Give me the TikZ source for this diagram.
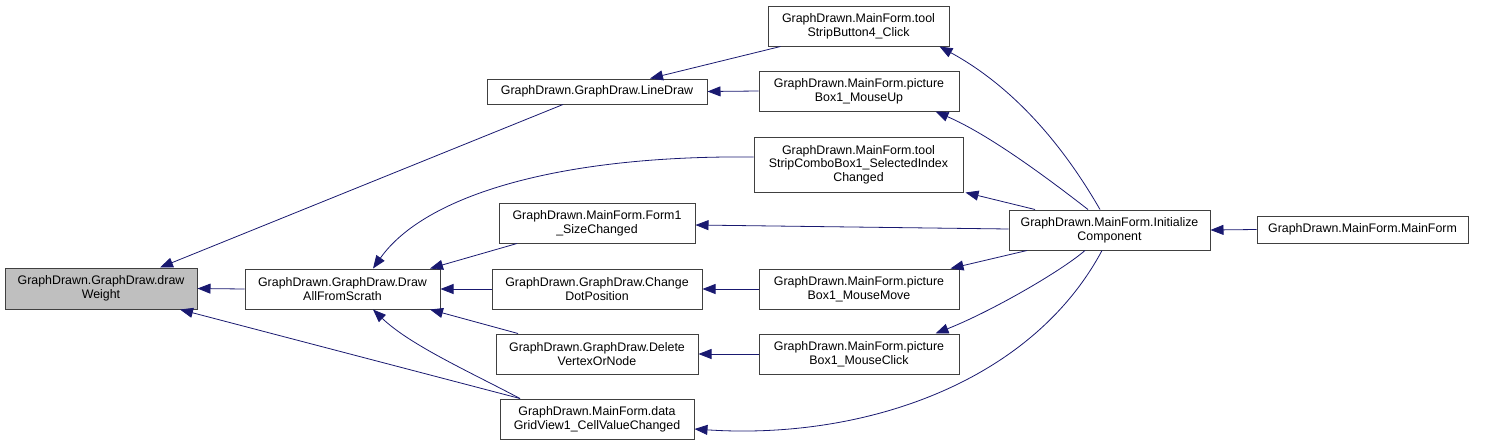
\documentclass[tikz,border=0pt]{standalone}
\usepackage{fontspec}
\setmainfont{Liberation Sans}
\usetikzlibrary{arrows.meta,calc}
\definecolor{edgecol}{HTML}{191970}
\definecolor{boxline}{HTML}{404040}
\definecolor{curfill}{HTML}{BFBFBF}
\tikzset{
  fbox/.style={draw=boxline, line width=1pt, fill=white, inner sep=0pt, align=center,
    font=\fontsize{12.4}{13.6}\selectfont},
  cur/.style={fbox, fill=curfill},
  edge/.style={draw=edgecol, line width=0.8pt, -{Triangle[length=13pt,width=10pt]}},
}
\begin{document}
\begin{tikzpicture}[x=1pt,y=-1pt]
\useasboundingbox (0,0) rectangle (1489,445);
% nodes
\node[cur,  minimum width=192pt, minimum height=41pt] (dw) at (101,288.5) {GraphDrawn.GraphDraw.draw\\Weight};
\node[fbox, minimum width=195pt, minimum height=40pt] (da) at (342.5,289) {GraphDrawn.GraphDraw.Draw\\AllFromScrath};
\node[fbox, minimum width=220pt, minimum height=25pt] (ld) at (597,91.5) {GraphDrawn.GraphDraw.LineDraw};
\node[fbox, minimum width=181pt, minimum height=40pt] (tb) at (858.5,26) {GraphDrawn.MainForm.tool\\StripButton4\_Click};
\node[fbox, minimum width=200pt, minimum height=40pt] (mu) at (859,91) {GraphDrawn.MainForm.picture\\Box1\_MouseUp};
\node[fbox, minimum width=209pt, minimum height=55pt] (tc) at (858.5,164.5) {GraphDrawn.MainForm.tool\\StripComboBox1\_SelectedIndex\\Changed};
\node[fbox, minimum width=196pt, minimum height=40pt] (fs) at (597,223) {GraphDrawn.MainForm.Form1\\\_SizeChanged};
\node[fbox, minimum width=210pt, minimum height=40pt] (cd) at (597,289) {GraphDrawn.GraphDraw.Change\\DotPosition};
\node[fbox, minimum width=202pt, minimum height=40pt] (dv) at (597,354) {GraphDrawn.GraphDraw.Delete\\VertexOrNode};
\node[fbox, minimum width=194pt, minimum height=40pt] (dg) at (597,419) {GraphDrawn.MainForm.data\\GridView1\_CellValueChanged};
\node[fbox, minimum width=200pt, minimum height=40pt] (mm) at (859,289) {GraphDrawn.MainForm.picture\\Box1\_MouseMove};
\node[fbox, minimum width=200pt, minimum height=40pt] (mc) at (859,354) {GraphDrawn.MainForm.picture\\Box1\_MouseClick};
\node[fbox, minimum width=201pt, minimum height=40pt] (ic) at (1109.5,230) {GraphDrawn.MainForm.Initialize\\Component};
\node[fbox, minimum width=211pt, minimum height=27pt] (mf) at (1362.5,229.5) {GraphDrawn.MainForm.MainForm};
% edges
\draw[edge] (da.west) -- (dw.east);
\draw[edge] ($(ld.south)+(-34,0)$) -- ($(dw.north)+(59,0)$);
\draw[edge] ($(dg.north)+(-77,0)$) -- ($(dw.south)+(79,0)$);
\draw[edge] ($(tb.south)+(-78,0)$) -- ($(ld.north)+(53,0)$);
\draw[edge] (mu.west) -- (ld.east);
\draw[edge] ($(tc.west)+(0,-7.5)$) .. controls (560,155) and (425,195) .. ($(da.north)+(30.5,0)$);
\draw[edge] ($(fs.south)+(-80,0)$) -- ($(da.north)+(87.5,0)$);
\draw[edge] (cd.west) -- (da.east);
\draw[edge] ($(dv.north)+(-79,0)$) -- ($(da.south)+(87.5,0)$);
\draw[edge] ($(dg.north)+(-77,0)$) .. controls (470,372) and (410,345) .. ($(da.south)+(30.5,0)$);
\draw[edge] (mm.west) -- (cd.east);
\draw[edge] (mc.west) -- (dv.east);
\draw[edge] ($(ic.north)+(-9.5,0)$) .. controls (1060,140) and (1010,85) .. ($(tb.south east)+(-10,0)$);
\draw[edge] ($(ic.north)+(-21.5,0)$) .. controls (1050,180) and (990,135) .. ($(mu.south east)+(-24,0)$);
\draw[edge] ($(ic.north)+(-74.5,0)$) -- ($(tc.south east)+(2,0)$);
\draw[edge] ($(ic.west)+(0,-1)$) -- ($(fs.east)+(0,2)$);
\draw[edge] ($(ic.south)+(-82.5,0)$) -- ($(mm.north east)+(-9,0)$);
\draw[edge] ($(ic.south)+(-24.5,0)$) .. controls (1060,272) and (990,312) .. ($(mc.north east)+(-24,0)$);
\draw[edge] ($(ic.south)+(-7.5,0)$) .. controls (1030,385) and (860,440) .. ($(dg.east)+(0,10)$);
\draw[edge] (mf.west) -- (ic.east);
\end{tikzpicture}
\end{document}
